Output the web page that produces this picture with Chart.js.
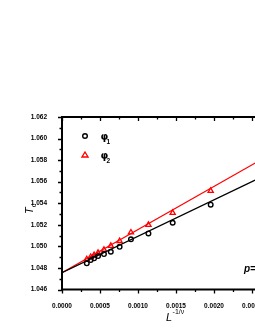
<!DOCTYPE html>
<html>
<head>
<meta charset="utf-8">
<script src="https://cdn.jsdelivr.net/npm/chart.js@4.4.0/dist/chart.umd.min.js"></script>
<style>
html, body { margin: 0; padding: 0; background: #fff; overflow: hidden; width: 255px; height: 330px; }
#wrap { width: 305px; height: 330px; }
</style>
</head>
<body>
<div id="wrap"><canvas id="myChart" width="305" height="330"></canvas></div>
<script>
// L^(-1/nu) values, shared by both series
var xVals = [0.000326, 0.000377, 0.000422, 0.000474, 0.000552, 0.000642, 0.000758, 0.000907, 0.001137, 0.001456, 0.001956];
var phi1 = [1.04843, 1.04873, 1.04889, 1.04910, 1.04929, 1.04950, 1.04996, 1.05065, 1.05120, 1.05219, 1.05387];
var phi2 = [1.04881, 1.04902, 1.04919, 1.04940, 1.04969, 1.05005, 1.05050, 1.05129, 1.05200, 1.05311, 1.05515];
// fitted lines (two end points each)
var fitX = [0, 0.0030];
var fit1 = [1.04756, 1.05770];
var fit2 = [1.04756, 1.05956];

var xMin = 0, xMax = 0.0030, xStep = 0.0005;
var yMin = 1.046, yMax = 1.062, yStep = 0.002;

function pts(xs, ys) {
    return xs.map(function(x, i) { return {x: x, y: ys[i]}; });
}

var tickFont = {family: 'Liberation Sans', size: 6.5, weight: 'bold'};

// axes frame, major + minor ticks, legend and axis titles
var decor = {
    id: 'decor',
    afterDraw: function(chart) {
        var c = chart.ctx, a = chart.chartArea;
        var sx = chart.scales.x, sy = chart.scales.y;
        c.save();
        c.strokeStyle = '#000';
        c.lineWidth = 2;
        c.beginPath();
        c.moveTo(a.left - 1, a.top); c.lineTo(a.right, a.top);
        c.moveTo(a.left - 1, a.bottom); c.lineTo(a.right, a.bottom);
        c.moveTo(a.left, a.top); c.lineTo(a.left, a.bottom);
        c.moveTo(a.right, a.top); c.lineTo(a.right, a.bottom);
        c.stroke();
        c.lineWidth = 1.3;
        c.beginPath();
        var i, v, p, len;
        for (i = 0; i <= Math.round((xMax - xMin) / (xStep / 2)); i++) {
            v = xMin + i * xStep / 2;
            p = Math.round(sx.getPixelForValue(v)) + 0.5;
            len = (i % 2 === 0) ? 4 : 2.5;
            c.moveTo(p, a.bottom); c.lineTo(p, a.bottom + len);
            c.moveTo(p, a.top); c.lineTo(p, a.top + len);
        }
        for (i = 0; i <= Math.round((yMax - yMin) / (yStep / 2)); i++) {
            v = yMin + i * yStep / 2;
            p = Math.round(sy.getPixelForValue(v)) + 0.5;
            len = (i % 2 === 0) ? 4 : 2.5;
            c.moveTo(a.left, p); c.lineTo(a.left - len, p);
            c.moveTo(a.right, p); c.lineTo(a.right - len, p);
        }
        c.stroke();

        // legend
        c.lineWidth = 1.4;
        c.strokeStyle = '#000';
        c.beginPath(); c.arc(85, 136, 2.3, 0, Math.PI * 2); c.stroke();
        c.strokeStyle = '#ff0000';
        c.beginPath();
        c.moveTo(85, 152); c.lineTo(88, 157); c.lineTo(82, 157); c.closePath();
        c.stroke();
        c.fillStyle = '#000';
        c.textBaseline = 'alphabetic';
        c.font = 'bold 10px "DejaVu Sans"';
        c.fillText('\u03C6', 100.5, 139.5);
        c.fillText('\u03C6', 100.5, 158.5);
        c.font = 'bold 6.5px "Liberation Sans"';
        c.fillText('1', 106.5, 144);
        c.fillText('2', 106.5, 163);

        // y title T_c
        c.save();
        c.translate(33, 214);
        c.rotate(-Math.PI / 2);
        c.font = 'italic 11px "Liberation Sans"';
        c.fillText('T', 0, 0);
        var tw = c.measureText('T').width;
        c.font = 'italic 8px "Liberation Sans"';
        c.fillText('c', tw, 2.5);
        c.restore();

        // x title L^(-1/nu)
        c.font = 'italic 11px "Liberation Sans"';
        c.fillText('L', 166, 321);
        var lw = c.measureText('L').width;
        c.font = '7px "Liberation Sans"';
        c.fillText('-1/\u03BD', 166 + lw + 0.5, 314);

        // parameter label
        c.font = 'bold italic 10px "Liberation Sans"';
        c.fillText('p=', 244, 272);
        c.restore();
    }
};

const ctx = document.getElementById('myChart').getContext('2d');
const myChart = new Chart(ctx, {
    type: 'scatter',
    data: {
        datasets: [
            {
                label: 'fit1',
                data: pts(fitX, fit1),
                showLine: true,
                borderColor: '#000',
                borderWidth: 1.2,
                pointRadius: 0
            },
            {
                label: 'fit2',
                data: pts(fitX, fit2),
                showLine: true,
                borderColor: '#ff0000',
                borderWidth: 1.1,
                pointRadius: 0
            },
            {
                label: '\u03C61',
                data: pts(xVals, phi1),
                pointStyle: 'circle',
                pointRadius: 2.3,
                borderWidth: 1.4,
                borderColor: '#000',
                backgroundColor: 'rgba(0,0,0,0)'
            },
            {
                label: '\u03C62',
                data: pts(xVals, phi2),
                pointStyle: 'triangle',
                pointRadius: 3,
                borderWidth: 1.3,
                borderColor: '#ff0000',
                backgroundColor: 'rgba(0,0,0,0)'
            }
        ]
    },
    options: {
        responsive: false,
        animation: false,
        devicePixelRatio: 1,
        layout: {padding: {top: 117, right: 10.5, left: 0, bottom: 0}},
        plugins: {
            legend: {display: false},
            tooltip: {enabled: false}
        },
        scales: {
            x: {
                type: 'linear',
                min: xMin,
                max: xMax,
                grid: {display: false},
                border: {display: false},
                ticks: {
                    stepSize: xStep,
                    padding: 5,
                    maxRotation: 0,
                    autoSkip: false,
                    color: '#000',
                    font: tickFont,
                    callback: function(v) { return v.toFixed(4); }
                },
                afterFit: function(s) { s.height = 40.5; }
            },
            y: {
                type: 'linear',
                min: yMin,
                max: yMax,
                grid: {display: false},
                border: {display: false},
                ticks: {
                    stepSize: yStep,
                    padding: 7,
                    color: '#000',
                    font: tickFont,
                    callback: function(v) { return v.toFixed(3); }
                },
                afterFit: function(s) { s.width = 62; }
            }
        }
    },
    plugins: [decor]
});
</script>
</body>
</html>
